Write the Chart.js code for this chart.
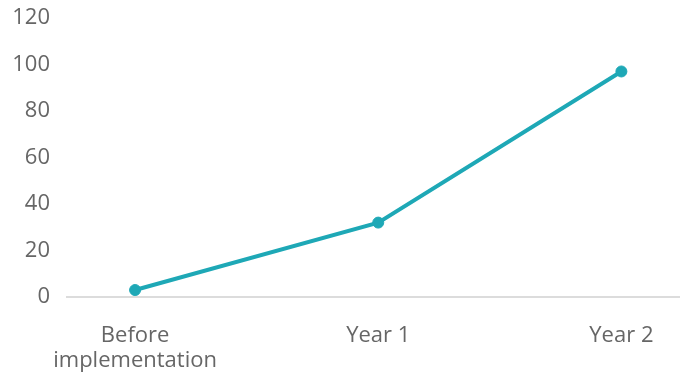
<!DOCTYPE html>
<html>
<head>
<meta charset="utf-8">
<style>
  html, body { margin: 0; padding: 0; background: #fff; }
  #wrap { width: 686px; height: 379px; position: relative; }
</style>
<script src="https://cdn.jsdelivr.net/npm/chart.js@4/dist/chart.umd.min.js"></script>
</head>
<body>
<div id="wrap"><canvas id="chart"></canvas></div>
<script>
// Categories along the x-axis (multi-line label for the first one)
const categories = [["Before", "implementation"], "Year 1", "Year 2"];
// Measured values for each category
const values = [3, 32, 97];
// Y-axis tick settings
const yTicks = { min: 0, max: 120, step: 20 };

const lineColor = '#1ea8b6';
const textColor = '#666666';

const points = values.map((v, i) => ({ x: i, y: v }));

new Chart(document.getElementById('chart'), {
  type: 'line',
  data: {
    datasets: [{
      data: points,
      borderColor: lineColor,
      backgroundColor: lineColor,
      borderWidth: 4,
      pointRadius: 5.5,
      pointBorderWidth: 1,
      pointHoverRadius: 5.5,
      tension: 0,
      fill: false,
      clip: false
    }]
  },
  options: {
    responsive: true,
    maintainAspectRatio: false,
    animation: false,
    layout: { padding: { top: 18, right: 0, bottom: 0, left: 0 } },
    plugins: { legend: { display: false }, tooltip: { enabled: false } },
    scales: {
      x: {
        type: 'linear',
        min: -0.28,
        max: 2.239,
        afterBuildTicks: (scale) => {
          scale.ticks = categories.map((_, i) => ({ value: i }));
        },
        afterFit: (scale) => { scale.height = 82; scale.paddingLeft = 0; scale.paddingRight = 0; },
        grid: { display: false, drawTicks: false },
        border: { display: true, color: '#dcdcdc', width: 2 },
        ticks: {
          color: textColor,
          font: { family: 'Open Sans', size: 22, lineHeight: 1.1 },
          padding: 27,
          maxRotation: 0,
          autoSkip: false,
          callback: (v) => categories[v]
        }
      },
      y: {
        min: yTicks.min,
        max: yTicks.max,
        afterFit: (scale) => { scale.width = 67; scale.paddingTop = 0; scale.paddingBottom = 0; },
        grid: { display: false, drawTicks: false },
        border: { display: false },
        ticks: {
          stepSize: yTicks.step,
          color: textColor,
          font: { family: 'Open Sans', size: 22 },
          padding: 17
        }
      }
    }
  }
});
</script>
</body>
</html>
